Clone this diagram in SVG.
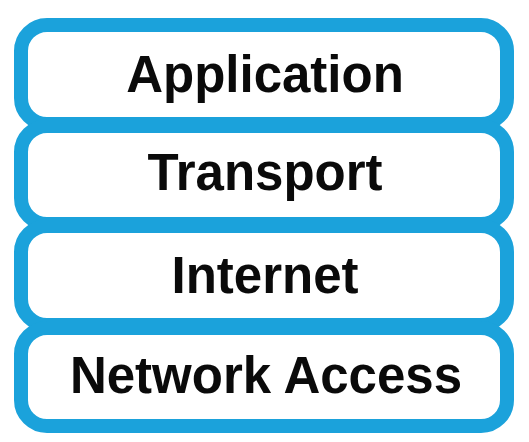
<svg xmlns="http://www.w3.org/2000/svg" width="529" height="442" viewBox="0 0 529 442">
<style>
.layer{fill:#ffffff;stroke:#1ba2db;stroke-width:14}
.lbl{font-family:"Liberation Sans",Arial,sans-serif;font-weight:bold;font-size:51px;fill:#0a0a0a;text-anchor:middle}
</style>
<rect width="529" height="442" fill="#ffffff"/>
<g id="application">
<rect class="layer" x="21" y="25" width="486" height="99" rx="26" ry="26"/>
<text class="lbl" x="265" y="92">Application</text>
</g>
<g id="transport">
<rect class="layer" x="21" y="126" width="486" height="98" rx="26" ry="26"/>
<text class="lbl" x="265" y="190">Transport</text>
</g>
<g id="internet">
<rect class="layer" x="21" y="226" width="486" height="99" rx="26" ry="26"/>
<text class="lbl" x="265" y="293">Internet</text>
</g>
<g id="network-access">
<rect class="layer" x="21" y="328" width="486" height="98" rx="26" ry="26"/>
<text class="lbl" x="266" y="393">Network Access</text>
</g>
<g id="connectors"></g>
</svg>
